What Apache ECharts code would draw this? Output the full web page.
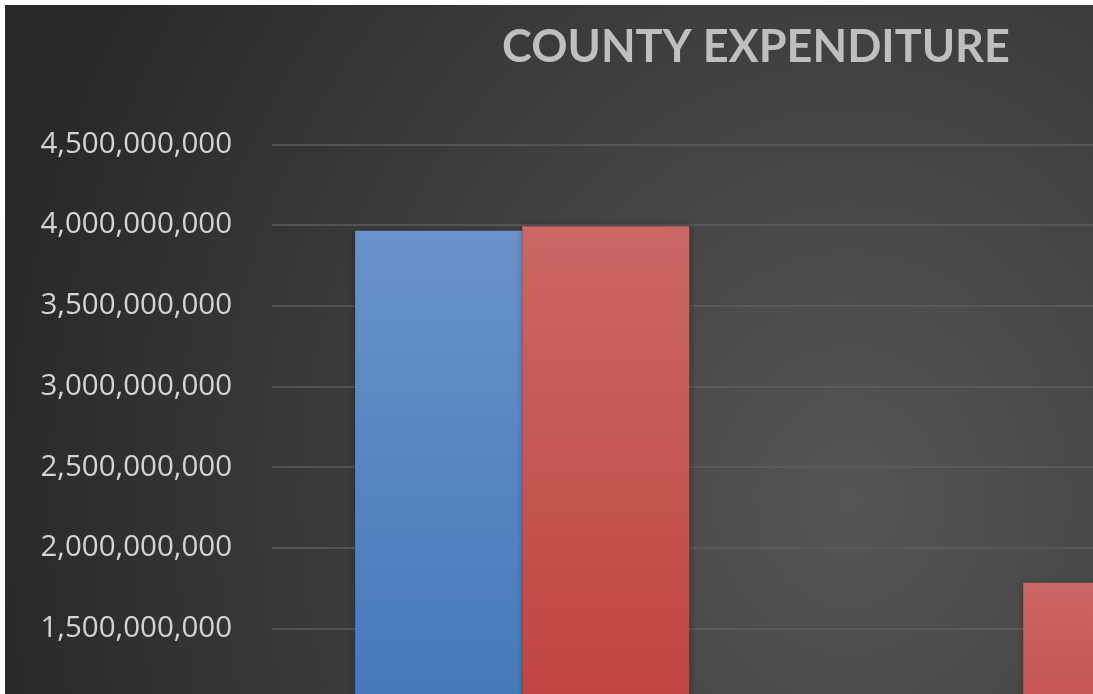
<!DOCTYPE html>
<html>
<head>
<meta charset="utf-8">
<script src="https://cdn.jsdelivr.net/npm/echarts@6/dist/echarts.min.js"></script>
<style>
  html, body { margin: 0; padding: 0; background: #ffffff; overflow: hidden; width: 1093px; height: 694px; }
  #chart {
    position: absolute; left: 5px; top: 5px; width: 1502px; height: 1000px;
    background: radial-gradient(ellipse 880px 1000px at 845px 495px, #555555 0%, #282828 100%);
  }
</style>
</head>
<body>
<div id="chart"></div>
<script>
// Expenditure per period, two series side by side
const categories = ['1', '2'];
const seriesNames = ['Series 1', 'Series 2'];
const blueValues = [3965000000, null];
const redValues = [3992000000, 1784000000];
const yTicks = { min: 0, max: 4500000000, interval: 500000000 };
const titleText = 'COUNTY EXPENDITURE';

const chart = echarts.init(document.getElementById('chart'), null, { renderer: 'canvas' });

function barGradient(top, bottom) {
  return new echarts.graphic.LinearGradient(0, 0, 0, 1, [
    { offset: 0, color: top },
    { offset: 1, color: bottom }
  ]);
}

const barShadow = {
  shadowBlur: 7,
  shadowColor: 'rgba(0,0,0,0.45)',
  shadowOffsetX: 1,
  shadowOffsetY: 1
};

chart.setOption({
  backgroundColor: 'transparent',
  animation: false,
  title: {
    text: titleText,
    left: 'center',
    top: 15,
    textStyle: {
      fontFamily: 'Lato',
      fontWeight: 'bold',
      fontSize: 45,
      color: '#bfbfbf'
    }
  },
  grid: { left: 266.7, top: 139.3, right: 233.3, bottom: 134.4, containLabel: false },
  xAxis: {
    type: 'category',
    data: categories,
    axisLine: { show: false },
    axisTick: { show: false },
    axisLabel: { color: '#d4d4d4', fontFamily: 'Open Sans', fontSize: 29.5 }
  },
  yAxis: {
    type: 'value',
    min: yTicks.min,
    max: yTicks.max,
    interval: yTicks.interval,
    axisLine: { show: false },
    axisTick: { show: false },
    axisLabel: {
      color: '#d4d4d4',
      fontFamily: 'Open Sans',
      fontSize: 29.5,
      margin: 39.7,
      formatter: v => v.toLocaleString('en-US')
    },
    splitLine: { lineStyle: { color: '#5e5e5e', width: 1.5 } }
  },
  series: [
    {
      name: seriesNames[0],
      type: 'bar',
      data: blueValues,
      barGap: '0%',
      barCategoryGap: '33.3%',
      itemStyle: Object.assign({ color: barGradient('#6a92ca', '#3670b5') }, barShadow)
    },
    {
      name: seriesNames[1],
      type: 'bar',
      data: redValues,
      barGap: '0%',
      barCategoryGap: '33.3%',
      itemStyle: Object.assign({ color: barGradient('#ca6863', '#bd3732') }, barShadow)
    }
  ]
});
</script>
</body>
</html>
